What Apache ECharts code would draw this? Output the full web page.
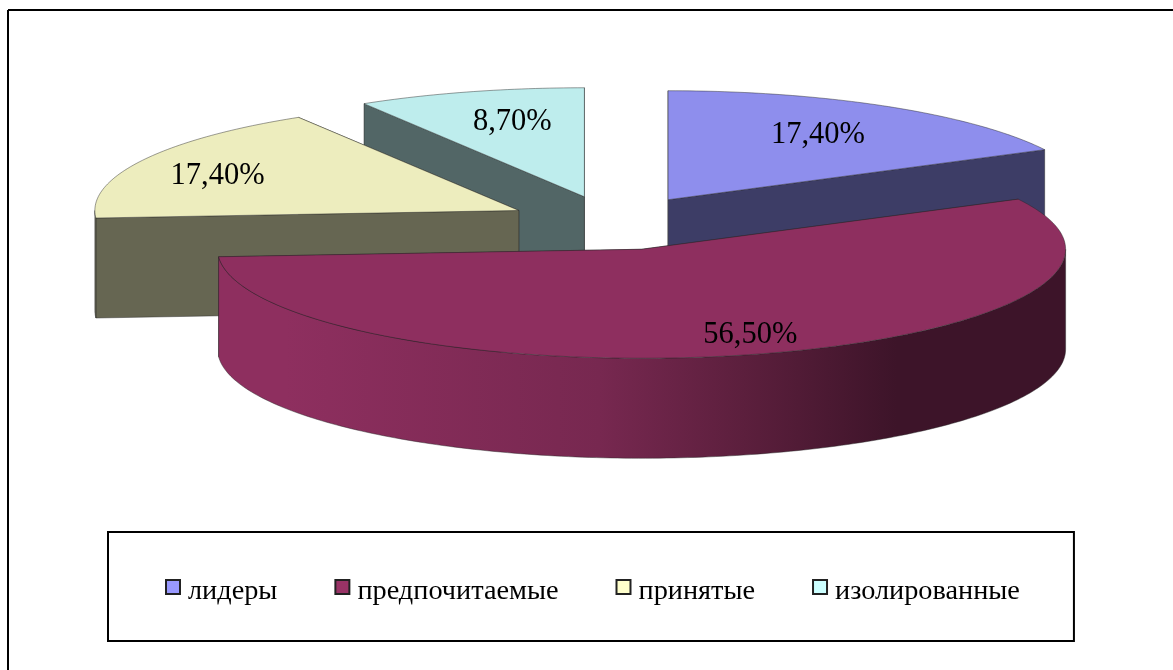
<!DOCTYPE html>
<html>
<head>
    <meta charset="utf-8">
    <title>Диаграмма</title>
    <style>
        html, body { margin: 0; padding: 0; background: #fff; }
    </style>
    <script src="https://cdn.jsdelivr.net/npm/echarts@6/dist/echarts.min.js"></script>
</head>
<body>
<div id="main" style="width: 1173px;height:670px;"></div>
<script>
    var categories = ['лидеры', 'предпочитаемые', 'принятые', 'изолированные'];
    var shares = [17.4, 56.5, 17.4, 8.7];
    var colors = ['#9999FF', '#993366', '#FFFFCC', '#CCFFFF'];

    // geometry of the tilted pie
    var cx = 613, cy = 223, rx = 424, ry = 109, depth = 100, explode = 0.25;
    // where each label sits, as a part of the radius (x, y)
    var labelAt = [[0.68, 0.70], [0.95, 0.82], [0.80, 0.69], [0.63, 0.71]];
    // far slices first, the big front one last
    var drawOrder = [1, 4, 3, 2];

    var total = shares.reduce(function (a, b) { return a + b; }, 0);

    function shade(hex, k) {
        var n = parseInt(hex.slice(1), 16);
        var r = Math.round((n >> 16) * k), g = Math.round(((n >> 8) & 255) * k), b = Math.round((n & 255) * k);
        return 'rgb(' + r + ',' + g + ',' + b + ')';
    }

    function point(c, angle, h) {
        return [c[0] + Math.sin(angle) * rx, c[1] - Math.cos(angle) * ry + (h || 0)];
    }

    function arcPoints(c, from, to, h) {
        var pts = [];
        var n = Math.max(2, Math.ceil(Math.abs(to - from) * 60));
        for (var i = 0; i <= n; i++) {
            pts.push(point(c, from + (to - from) * i / n, h));
        }
        return pts;
    }

    function renderSlice(index) {
        return function (params, api) {
            var before = 0;
            for (var i = 0; i < index; i++) {
                before += shares[i];
            }
            var value = api.value(0);
            var a0 = before / total * 2 * Math.PI;
            var a1 = (before + value) / total * 2 * Math.PI;
            var mid = (a0 + a1) / 2;
            var c = [cx + Math.sin(mid) * rx * explode, cy - Math.cos(mid) * ry * explode];
            var color = colors[index];
            var top = shade(color, 0.93), side = shade(color, 0.4);
            var edge = 'rgba(40,40,40,0.45)';
            var children = [];

            // cut walls, the one further back goes first
            [a0, a1].sort(function (p, q) {
                return Math.cos(q) - Math.cos(p);
            }).forEach(function (a) {
                var p = point(c, a);
                children.push({
                    type: 'polygon',
                    shape: { points: [c, p, [p[0], p[1] + depth], [c[0], c[1] + depth]] },
                    style: { fill: side, stroke: edge, lineWidth: 1 }
                });
            });

            // outer wall, only the part turned to the viewer
            var w0 = Math.max(a0, Math.PI / 2), w1 = Math.min(a1, Math.PI * 1.5);
            if (w1 > w0) {
                var wall = arcPoints(c, w0, w1, 0).concat(arcPoints(c, w1, w0, depth));
                var fill = side;
                if (value > 50) {
                    fill = new echarts.graphic.LinearGradient(1, 0, 0, 0, [
                        { offset: 0, color: side },
                        { offset: 0.2, color: side },
                        { offset: 0.38, color: shade(color, 0.6) },
                        { offset: 0.55, color: shade(color, 0.78) },
                        { offset: 0.92, color: top },
                        { offset: 1, color: top }
                    ]);
                }
                children.push({
                    type: 'polygon',
                    shape: { points: wall },
                    style: { fill: fill, stroke: edge, lineWidth: 1 }
                });
            }

            // top face
            children.push({
                type: 'polygon',
                shape: { points: [c].concat(arcPoints(c, a0, a1, 0)) },
                style: { fill: top, stroke: edge, lineWidth: 1 }
            });

            children.push({
                type: 'text',
                style: {
                    x: c[0] + Math.sin(mid) * rx * labelAt[index][0],
                    y: c[1] - Math.cos(mid) * ry * labelAt[index][1],
                    text: value.toFixed(2).replace('.', ',') + '%',
                    fill: '#000',
                    font: '30.5px "Liberation Serif"',
                    align: 'center',
                    verticalAlign: 'middle'
                }
            });

            return { type: 'group', children: children };
        };
    }

    var myChart = echarts.init(document.getElementById('main'));

    var option = {
        animation: false,
        legend: {
            data: categories.map(function (name, i) {
                return { name: name, itemStyle: { color: colors[i] } };
            }),
            left: 108,
            top: 532,
            orient: 'horizontal',
            padding: [46, 54, 35, 57],
            backgroundColor: '#fff',
            borderColor: '#000',
            borderWidth: 2,
            borderRadius: 0,
            itemGap: 57,
            itemWidth: 14,
            itemHeight: 14,
            icon: 'rect',
            selectedMode: false,
            itemStyle: { borderColor: '#222', borderWidth: 2 },
            formatter: '{a|{name}}',
            textStyle: {
                rich: {
                    a: { fontFamily: 'Liberation Serif', fontSize: 28.3, color: '#000', padding: [10, 0, 0, 3] }
                }
            }
        },
        graphic: [
            { type: 'line', shape: { x1: 8, y1: 10, x2: 1173, y2: 10 }, style: { stroke: '#000', lineWidth: 2 } },
            { type: 'line', shape: { x1: 8, y1: 10, x2: 8, y2: 670 }, style: { stroke: '#000', lineWidth: 2 } }
        ],
        series: categories.map(function (name, i) {
            return {
                type: 'custom',
                name: name,
                coordinateSystem: 'none',
                z: drawOrder[i] + 2,
                itemStyle: { color: colors[i] },
                renderItem: renderSlice(i),
                data: [[shares[i]]]
            };
        })
    };

    myChart.setOption(option);
</script>
</body>
</html>
